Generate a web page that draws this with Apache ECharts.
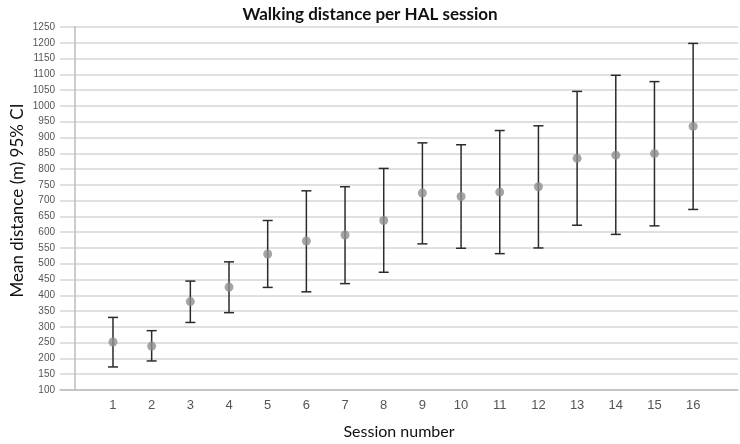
<!DOCTYPE html>
<html><head><meta charset="utf-8">
<script src="https://cdn.jsdelivr.net/npm/echarts@6/dist/echarts.min.js"></script>
<style>html,body{margin:0;padding:0;background:#fff}#c{width:740px;height:444px}</style>
</head><body><div id="c"></div>
<script>
var sessions = [1,2,3,4,5,6,7,8,9,10,11,12,13,14,15,16];
var means = [252,239,380,426,531,572,591,637,724,713,727,744,834,844,849,935];
var lower = [173,192,314,345,425,411,437,473,563,549,532,550,622,593,620,672];
var upper = [330,288,445,506,637,731,744,802,883,877,922,937,1046,1097,1077,1198];
var yTicks = {min:100, max:1250, step:50};

var meanData = sessions.map(function(s,i){return [s, means[i]];});
var ciData = sessions.map(function(s,i){return [s, lower[i], upper[i]];});

var chart = echarts.init(document.getElementById('c'));
chart.setOption({
  animation:false,
  backgroundColor:'#fff',
  title:{text:'Walking distance per HAL session', left:'center', top:1,
    textStyle:{fontFamily:'Lato', fontWeight:'bold', fontSize:17, color:'#111'}},
  grid:{left:60, right:2, top:27, bottom:54, containLabel:false, outerBoundsMode:'none'},
  xAxis:{type:'value', min:-0.37, max:17.16,
    name:'Session number', nameLocation:'middle', nameGap:34,
    nameTextStyle:{fontFamily:'Lato', fontSize:16, color:'#111'},
    axisLine:{show:true, onZero:false, lineStyle:{color:'#bdbdbd', width:1.5}},
    axisTick:{show:false}, splitLine:{show:false},
    axisLabel:{customValues:sessions, fontFamily:'Liberation Sans', fontSize:13, color:'#555', margin:9}},
  yAxis:{type:'value', min:yTicks.min, max:yTicks.max, interval:yTicks.step,
    name:'Mean distance (m) 95% CI', nameLocation:'middle', nameGap:34, nameMoveOverlap:false,
    nameTextStyle:{fontFamily:'Lato', fontSize:17, color:'#111', padding:[0,0,0,16]},
    axisLine:{show:true, lineStyle:{color:'#bdbdbd', width:1.5}},
    axisTick:{show:false},
    splitLine:{lineStyle:{color:'#d6d6d6', width:1.5}},
    axisLabel:{fontFamily:'Liberation Sans', fontSize:10, color:'#555', margin:5,
      formatter:function(v){return String(v);}}},
  series:[
    {type:'custom', data:ciData, z:2,
      renderItem:function(params, api){
        var x = api.value(0);
        var lo = api.coord([x, api.value(1)]);
        var hi = api.coord([x, api.value(2)]);
        var w = 5;
        var st = {stroke:'#2b2b2b', lineWidth:1.5};
        return {type:'group', children:[
          {type:'line', shape:{x1:lo[0], y1:lo[1], x2:hi[0], y2:hi[1]}, style:st},
          {type:'line', shape:{x1:hi[0]-w, y1:hi[1], x2:hi[0]+w, y2:hi[1]}, style:st},
          {type:'line', shape:{x1:lo[0]-w, y1:lo[1], x2:lo[0]+w, y2:lo[1]}, style:st}
        ]};
      }},
    {type:'scatter', data:meanData, symbol:'circle', symbolSize:9, z:3,
      itemStyle:{color:'#8f8f8f'}}
  ]
});
</script></body></html>
